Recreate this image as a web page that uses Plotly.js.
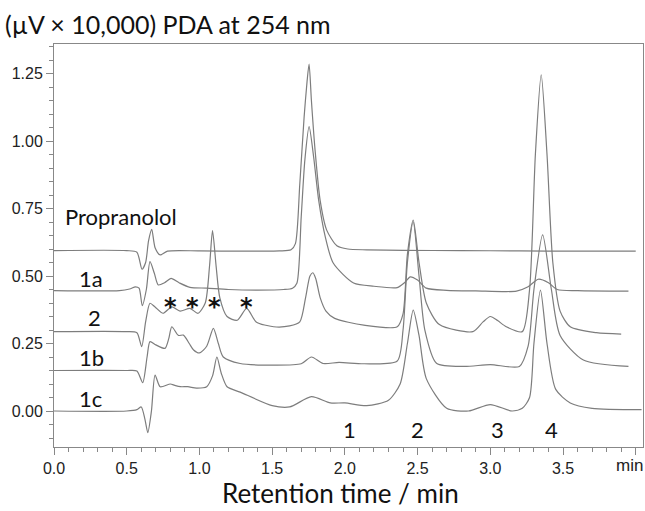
<!DOCTYPE html>
<html>
<head>
<meta charset="utf-8">
<script src="https://cdn.plot.ly/plotly-3.0.1.min.js"></script>
<style>html,body{margin:0;padding:0;background:#fff;}#chart{width:645px;height:511px;}</style>
</head>
<body>
<div id="chart"></div>
<script>
// Retention time (min) and signal (µV × 10,000)
const propranololX = [0, 0.5, 0.57, 0.605, 0.63, 0.65, 0.672, 0.695, 0.73, 0.78, 1.0, 1.3, 1.55, 1.63, 1.66, 1.69, 1.72, 1.74, 1.754, 1.77, 1.795, 1.83, 1.875, 1.945, 2.02, 2.15, 2.4, 2.8, 3.2, 3.6, 4.0];
const propranololY = [0.594, 0.594, 0.588, 0.525, 0.55, 0.63, 0.673, 0.605, 0.578, 0.592, 0.593, 0.592, 0.593, 0.597, 0.62, 0.84, 1.09, 1.22, 1.285, 1.15, 0.967, 0.78, 0.67, 0.612, 0.600, 0.597, 0.595, 0.594, 0.593, 0.592, 0.592];

const s1aX = [0, 0.45, 0.52, 0.56, 0.585, 0.607, 0.635, 0.66, 0.69, 0.717, 0.76, 0.805, 0.86, 0.935, 1.05, 1.2, 1.4, 1.58, 1.64, 1.67, 1.70, 1.725, 1.754, 1.785, 1.82, 1.865, 1.92, 2.06, 2.2, 2.36, 2.41, 2.45, 2.50, 2.56, 2.7, 2.9, 3.18, 3.26, 3.33, 3.40, 3.46, 3.6, 3.95];
const s1aY = [0.446, 0.446, 0.452, 0.46, 0.455, 0.39, 0.45, 0.553, 0.51, 0.467, 0.475, 0.491, 0.475, 0.458, 0.455, 0.45, 0.448, 0.45, 0.455, 0.473, 0.72, 0.93, 1.053, 0.942, 0.78, 0.646, 0.548, 0.474, 0.462, 0.457, 0.475, 0.497, 0.485, 0.455, 0.447, 0.445, 0.444, 0.46, 0.488, 0.475, 0.45, 0.446, 0.444];

const s2X = [0, 0.5, 0.57, 0.603, 0.63, 0.66, 0.695, 0.75, 0.81, 0.867, 0.935, 0.99, 1.04, 1.07, 1.09, 1.115, 1.14, 1.19, 1.26, 1.325, 1.39, 1.51, 1.62, 1.69, 1.73, 1.76, 1.78, 1.80, 1.83, 1.87, 1.93, 2.13, 2.36, 2.40, 2.43, 2.47, 2.51, 2.56, 2.65, 2.88, 2.95, 3.0, 3.05, 3.11, 3.22, 3.27, 3.31, 3.35, 3.39, 3.43, 3.48, 3.55, 3.73, 3.9];
const s2Y = [0.294, 0.294, 0.29, 0.238, 0.33, 0.399, 0.385, 0.362, 0.386, 0.37, 0.38, 0.362, 0.40, 0.54, 0.668, 0.535, 0.42, 0.35, 0.336, 0.38, 0.33, 0.312, 0.315, 0.33, 0.42, 0.50, 0.512, 0.49, 0.42, 0.37, 0.343, 0.318, 0.312, 0.36, 0.58, 0.707, 0.55, 0.40, 0.32, 0.294, 0.33, 0.35, 0.335, 0.312, 0.294, 0.45, 0.95, 1.245, 0.95, 0.55, 0.37, 0.312, 0.29, 0.285];

const s1bX = [0, 0.5, 0.57, 0.61, 0.64, 0.66, 0.70, 0.763, 0.79, 0.81, 0.855, 0.89, 0.93, 0.96, 1.0, 1.05, 1.096, 1.13, 1.164, 1.28, 1.51, 1.70, 1.77, 1.85, 1.96, 2.13, 2.36, 2.40, 2.43, 2.47, 2.51, 2.55, 2.63, 2.82, 3.0, 3.2, 3.26, 3.30, 3.36, 3.42, 3.48, 3.64, 3.95];
const s1bY = [0.15, 0.15, 0.148, 0.105, 0.2, 0.257, 0.245, 0.232, 0.27, 0.312, 0.28, 0.281, 0.25, 0.226, 0.215, 0.24, 0.306, 0.25, 0.2, 0.176, 0.17, 0.175, 0.2, 0.176, 0.18, 0.175, 0.185, 0.3, 0.55, 0.70, 0.5, 0.3, 0.177, 0.165, 0.172, 0.165, 0.24, 0.45, 0.652, 0.45, 0.28, 0.189, 0.165];

const s1cX = [0, 0.5, 0.57, 0.60, 0.625, 0.645, 0.67, 0.695, 0.73, 0.8, 0.83, 0.87, 0.92, 0.98, 1.05, 1.09, 1.12, 1.15, 1.19, 1.28, 1.5, 1.62, 1.77, 1.9, 2.0, 2.15, 2.3, 2.38, 2.43, 2.47, 2.51, 2.56, 2.7, 2.85, 3.0, 3.15, 3.22, 3.27, 3.30, 3.345, 3.39, 3.45, 3.55, 3.7, 4.04];
const s1cY = [0, 0, 0.005, 0.015, -0.03, -0.08, 0.0, 0.133, 0.09, 0.1, 0.095, 0.09, 0.09, 0.085, 0.09, 0.13, 0.2, 0.14, 0.09, 0.07, 0.02, 0.015, 0.053, 0.03, 0.03, 0.02, 0.04, 0.1, 0.25, 0.374, 0.28, 0.12, 0.01, 0.0, 0.024, 0.0, 0.01, 0.05, 0.25, 0.448, 0.25, 0.08, 0.03, 0.01, 0.005];

const traceNames = ["Propranolol", "1a", "2", "1b", "1c"];
const yTickVals = [0, 0.25, 0.5, 0.75, 1.0, 1.25];
const yTickText = ["0.00", "0.25", "0.50", "0.75", "1.00", "1.25"];
const xTickVals = [0, 0.5, 1.0, 1.5, 2.0, 2.5, 3.0, 3.5, 4.0];
const xTickText = ["0.0", "0.5", "1.0", "1.5", "2.0", "2.5", "3.0", "3.5", ""];
const xUnitLabel = "min";
const peakLabels = ["1", "2", "3", "4"];
const peakLabelX = [2.03, 2.5, 3.05, 3.42];
const starX = [0.80, 0.95, 1.107, 1.327];

const lineColor = "#7d7d7d";
const series = [[propranololX, propranololY], [s1aX, s1aY], [s2X, s2Y], [s1bX, s1bY], [s1cX, s1cY]];
const data = series.map((s, i) => ({
  x: s[0], y: s[1], name: traceNames[i], type: "scatter", mode: "lines",
  line: {color: lineColor, width: 1.2, shape: "spline", smoothing: 0.7},
  hoverinfo: "skip"
}));

const labelFont = {family: "Lato, 'Open Sans', sans-serif", size: 22, color: "#111"};
const starFont = {family: "'DejaVu Sans', sans-serif", size: 24, color: "#111"};
const tickFont = {family: "'Liberation Sans Narrow', 'Arial Narrow', 'Liberation Sans', sans-serif", size: 16, color: "#222"};

const annotations = [
  {x: 0.06, y: 0.72, text: "Propranolol", xanchor: "left"},
  {x: 0.16, y: 0.49, text: "1a", xanchor: "left"},
  {x: 0.22, y: 0.345, text: "2", xanchor: "left"},
  {x: 0.16, y: 0.2, text: "1b", xanchor: "left"},
  {x: 0.16, y: 0.048, text: "1c", xanchor: "left"}
].map(a => Object.assign({xref: "x", yref: "y", yanchor: "middle", showarrow: false, font: labelFont}, a));
starX.forEach(x => annotations.push({xref: "x", yref: "y", x: x, y: 0.385, text: "<b>*</b>", showarrow: false, xanchor: "center", yanchor: "middle", font: starFont}));
peakLabels.forEach((t, i) => annotations.push({xref: "x", yref: "y", x: peakLabelX[i], y: -0.07, text: t, showarrow: false, xanchor: "center", yanchor: "middle", font: labelFont}));
annotations.push({xref: "paper", yref: "paper", x: 0.487, y: -0.113, text: "Retention time / min", showarrow: false, xanchor: "center", yanchor: "middle", font: {family: "Lato, 'Open Sans', sans-serif", size: 26, color: "#111"}});
annotations.push({xref: "paper", yref: "paper", x: 1.0, y: -0.046, text: xUnitLabel, showarrow: false, xanchor: "right", yanchor: "middle", xshift: 2, font: {family: tickFont.family, size: 17, color: "#222"}});

const layout = {
  width: 645, height: 511,
  margin: {l: 54, r: 2, t: 44, b: 64, pad: 0},
  paper_bgcolor: "#fff", plot_bgcolor: "#fff",
  showlegend: false,
  title: {text: "(µV × 10,000) PDA at 254 nm", x: 5/645, xanchor: "left", y: 0.951, yanchor: "middle", font: {family: "Lato, 'Open Sans', sans-serif", size: 25, color: "#111"}},
  xaxis: {
    range: [0, 4.05], tickvals: xTickVals, ticktext: xTickText,
    showgrid: false, zeroline: false, showline: true, linecolor: "#888", linewidth: 1, mirror: true,
    ticks: "outside", ticklen: 7, tickcolor: "#888", tickfont: tickFont,
    minor: {dtick: 0.1, ticks: "outside", ticklen: 4, tickcolor: "#888", showgrid: false}
  },
  yaxis: {
    range: [-0.1333, 1.3593], tickvals: yTickVals, ticktext: yTickText,
    showgrid: false, zeroline: false, showline: true, linecolor: "#888", linewidth: 1, mirror: true,
    ticks: "outside", ticklen: 7, tickcolor: "#888", tickfont: tickFont,
    minor: {dtick: 0.05, ticks: "outside", ticklen: 4, tickcolor: "#888", showgrid: false}
  },
  annotations: annotations
};

Plotly.newPlot("chart", data, layout, {staticPlot: true, displayModeBar: false});
</script>
</body>
</html>
